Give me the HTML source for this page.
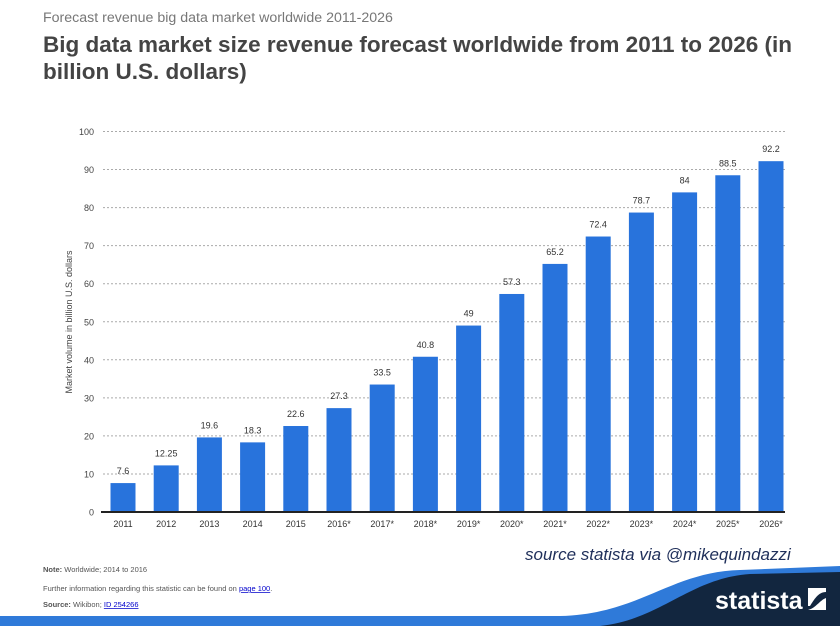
<!DOCTYPE html>
<html><head><meta charset="utf-8"><style>
body{margin:0;background:#fff;font-family:"Liberation Sans",sans-serif}
#wrap{position:relative;width:840px;height:626px;overflow:hidden}
</style></head><body>
<div id="wrap">
<svg id="chart" width="840" height="626">
<text x="43" y="22" font-size="14.2" fill="#777">Forecast revenue big data market worldwide 2011-2026</text>
<text x="43" y="52" font-size="22.5" font-weight="bold" fill="#444">Big data market size revenue forecast worldwide from 2011 to 2026 (in</text>
<text x="43" y="79" font-size="22.5" font-weight="bold" fill="#444">billion U.S. dollars)</text>
<text transform="translate(72,322) rotate(-90)" text-anchor="middle" font-size="9" fill="#444">Market volume in billion U.S. dollars</text>
<g id="grid"></g><g id="bars"></g>
<line x1="101" y1="512" x2="785" y2="512" stroke="#222" stroke-width="2"/>
<text x="43" y="572" font-size="7.5" fill="#555"><tspan font-weight="bold">Note:</tspan> Worldwide; 2014 to 2016</text>
<text x="43" y="591" font-size="7.5" fill="#555">Further information regarding this statistic can be found on <tspan fill="#00c" text-decoration="underline">page 100</tspan>.</text>
<text x="43" y="607" font-size="7.5" fill="#555"><tspan font-weight="bold">Source:</tspan> Wikibon; <tspan fill="#00c" text-decoration="underline">ID 254266</tspan></text>
<text x="525" y="560" font-size="17" font-style="italic" fill="#1f2f5a">source statista via @mikequindazzi</text>
<path d="M0 616 L560 616 C640 614 670 572 740 570 L840 566 L840 626 L0 626Z" fill="#2f7ad9"/>
<path d="M600 626 C660 620 690 578 750 574 L840 572 L840 626Z" fill="#12263f"/>
<text x="715" y="609" font-size="25" font-weight="bold" fill="#fff">statista</text>
<path d="M808 588 h18 v4 c-8 0 -12 8 -16 14 h-2z M826 598 v12 h-18 c8-2 12-10 18-12z" fill="#fff"/>
</svg>
<script>
const categories=["2011","2012","2013","2014","2015","2016*","2017*","2018*","2019*","2020*","2021*","2022*","2023*","2024*","2025*","2026*"];
const values=[7.6,12.25,19.6,18.3,22.6,27.3,33.5,40.8,49,57.3,65.2,72.4,78.7,84,88.5,92.2];
const valueLabels=["7.6","12.25","19.6","18.3","22.6","27.3","33.5","40.8","49","57.3","65.2","72.4","78.7","84","88.5","92.2"];
const yTicks=[0,10,20,30,40,50,60,70,80,90,100];
const NS="http://www.w3.org/2000/svg";
function y(v){return 512-v*3.805;}
function x(i){return 123+i*43.2;}
const grid=document.getElementById('grid'),bars=document.getElementById('bars');
function mk(t,a,p){const e=document.createElementNS(NS,t);for(const k in a)e.setAttribute(k,a[k]);p.appendChild(e);return e;}
yTicks.forEach(t=>{
  if(t>0){const l=mk('line',{x1:103,x2:785,y1:y(t),y2:y(t),stroke:'#aaa','stroke-dasharray':'2,2','stroke-width':1},grid);
  
  }
  const tx=mk('text',{x:94,y:y(t)+3.5,'text-anchor':'end','font-size':9,fill:'#444'},grid);tx.textContent=t;
  
  
});
values.forEach((v,i)=>{
  const r=mk('rect',{x:x(i)-12.5,y:y(v),width:25,height:512-y(v),fill:'#2873dc'},bars);
  
  
  const lt=mk('text',{x:x(i),y:y(v)-9,'text-anchor':'middle','font-size':9,fill:'#333'},bars);lt.textContent=valueLabels[i];
  
  
  const ct=mk('text',{x:x(i),y:527,'text-anchor':'middle','font-size':9,fill:'#333'},bars);ct.textContent=categories[i];
  
  
});
</script>
</div>
</body></html>
